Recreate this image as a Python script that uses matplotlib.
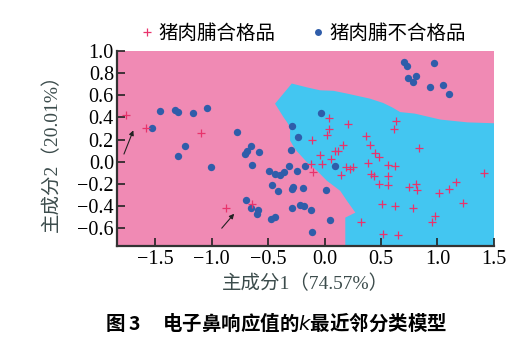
import numpy as np
import matplotlib
matplotlib.use("Agg")
import matplotlib.pyplot as plt
from matplotlib.lines import Line2D

# ---- data: PCA scores of the two sample groups ----
ok_x = [-1.755, -1.583, -1.095, -0.870, -0.639,
        -0.038, -0.124, -0.018, -0.103,
        0.042, 0.204, 0.036, 0.024, -0.107, 0.364, 0.400, 0.160, 0.092, 0.119, 0.444, 0.486, 0.059,
        0.631, 0.616, 0.841,
        0.190, 0.249, 0.228, 0.148, 0.385, 0.563, 0.622, 0.415, 0.441, 0.560, 0.480, 0.560,
        0.752, 0.808, 0.817, 1.013, 1.101, 1.161, 1.409, 1.223, 0.509, 0.625, 0.785,
        0.977, 0.954, 0.326, 0.518, 0.652]
ok_y = [0.418, 0.306, 0.255, -0.415, -0.385,
        0.057, -0.025, -0.021, -0.091,
        0.394, 0.336, 0.297, 0.243, 0.194, 0.236, 0.148, 0.152, 0.097, 0.097, 0.075, 0.045, 0.021,
        0.364, 0.291, 0.121,
        -0.045, -0.045, -0.070, -0.124, -0.015, -0.027, -0.042, -0.109, -0.130, -0.130, -0.200, -0.215,
        -0.233, -0.206, -0.255, -0.285, -0.252, -0.188, -0.103, -0.375, -0.385, -0.400, -0.418,
        -0.488, -0.545, -0.545, -0.652, -0.664]

bad_x = [-1.459, -1.326, -1.297, -1.163, -1.039, -1.524, -1.234, -1.297, -1.009, -0.778,
         -0.290, -0.236, -0.293, -0.651, -0.689, -0.704, -0.577, -0.645, -0.494, -0.435,
         -0.396, -0.355, -0.316, -0.245, -0.169, -0.464, -0.411, -0.290, -0.278, -0.192,
         0.012, -0.695, -0.651, -0.586, -0.600, -0.476, -0.435, -0.287, -0.213, -0.183,
         -0.118, -0.109, 0.051, -0.029, 0.089,
         0.702, 0.732, 0.968, 0.737, 0.814, 0.782, 0.936, 1.051, 1.105]
bad_y = [0.455, 0.467, 0.452, 0.442, 0.488, 0.300, 0.139, 0.055, -0.052, 0.267,
         0.324, 0.227, 0.106, 0.139, 0.094, 0.070, 0.088, -0.033, -0.082, -0.112,
         -0.121, -0.091, -0.039, -0.088, -0.042, -0.212, -0.264, -0.243, -0.227, -0.239,
         -0.255, -0.348, -0.421, -0.436, -0.470, -0.515, -0.497, -0.418, -0.388, -0.403,
         -0.439, -0.636, -0.527, 0.439, -0.036,
         0.903, 0.866, 0.891, 0.755, 0.770, 0.721, 0.673, 0.697, 0.612]

# outline of the region the kNN model assigns to the qualified class
region_x = [-0.290, -0.438, -0.364, -0.331, -0.305, -0.305, -0.269, -0.242, -0.156, -0.067,
            0.021, 0.139, 0.199, 0.273, 0.184, 0.184, 1.55, 1.55,
            1.265, 1.027, 0.800, 0.670, 0.600, 0.520, 0.400, 0.200, 0.080, -0.040, -0.150]
region_y = [0.706, 0.524, 0.403, 0.355, 0.309, 0.191, 0.127, 0.091, -0.005, -0.082,
            -0.173, -0.264, -0.355, -0.461, -0.506, -0.80, -0.80, 0.345,
            0.355, 0.380, 0.434, 0.448, 0.490, 0.530, 0.570, 0.615, 0.640, 0.645, 0.670]

x_ticks = [-1.5, -1.0, -0.5, 0.0, 0.5, 1.0, 1.5]
y_ticks = [-0.6, -0.4, -0.2, 0.0, 0.2, 0.4, 0.6, 0.8, 1.0]

pink = "#f08ab4"
blue = "#43c6f1"
dot_color = "#2f5daa"
cross_color = "#e8336c"
label_color = "#3c4c4c"

serif_cjk = ["Liberation Serif", "Noto Sans CJK SC"]

fig = plt.figure(figsize=(5.16, 3.41), dpi=100)
ax = fig.add_axes([0.2262, 0.2795, 0.7310, 0.5709])

xmin, xmax = -1.84, 1.5
ymin, ymax = -0.76, 1.0
ax.set_facecolor(pink)
ax.fill(region_x, region_y, color=blue, lw=0, zorder=1)

ax.scatter(bad_x, bad_y, s=28, color=dot_color, marker="o", lw=0, zorder=3)
ax.scatter(ok_x, ok_y, s=30, color=cross_color, marker="+", lw=0.9, zorder=3)

# arrows pointing at misclassified samples
ax.annotate("", xy=(-1.684, 0.306), xytext=(-1.785, 0.045),
            arrowprops=dict(arrowstyle="-|>", color="#222222", lw=0.8, mutation_scale=7), zorder=4)
ax.annotate("", xy=(-0.784, -0.452), xytext=(-0.926, -0.621),
            arrowprops=dict(arrowstyle="-|>", color="#222222", lw=0.8, mutation_scale=7), zorder=4)

ax.set_xlim(xmin, xmax)
ax.set_ylim(ymin, ymax)
ax.set_xticks(x_ticks)
ax.set_yticks(y_ticks)
ax.set_xticklabels([f"{v:.1f}".replace("-", "\u2212") for v in x_ticks], family="Liberation Serif", fontsize=14.5)
ax.set_yticklabels([f"{v:.1f}".replace("-", "\u2212") for v in y_ticks], family="Liberation Serif", fontsize=14.5)
ax.tick_params(direction="in", length=6, width=1.2, color="#222222", pad=3)
ax.tick_params(axis="y", pad=2)
for side in ["top", "right"]:
    ax.spines[side].set_visible(False)
for side in ["left", "bottom"]:
    ax.spines[side].set_color("#333333")
    ax.spines[side].set_linewidth(1.6)

ax.set_xlabel("主成分1（74.57%）", family=serif_cjk, fontsize=14, color=label_color, labelpad=4)
ax.set_ylabel("主成分2（20.01%）", family=serif_cjk, fontsize=14, color=label_color, labelpad=12)

handles = [Line2D([], [], ls="none", marker="+", color=cross_color, markersize=6, mew=0.9),
           Line2D([], [], ls="none", marker="o", color=dot_color, markersize=5, mew=0)]
fig.legend(handles, ["猪肉脯合格品", "猪肉脯不合格品"], loc="center", ncol=2,
           bbox_to_anchor=(0.588, 0.903), frameon=False, handlelength=0.6, handletextpad=0.3,
           columnspacing=1.9, prop={"family": "Noto Sans CJK SC", "size": 14})

fig.text(0.535, 0.055, "图 3     电子鼻响应值的$\\it{k}$最近邻分类模型", ha="center", va="center",
         family=["Noto Sans CJK SC", "DejaVu Sans"], fontsize=14, fontweight="bold")

fig.savefig("out.png", dpi=100)
